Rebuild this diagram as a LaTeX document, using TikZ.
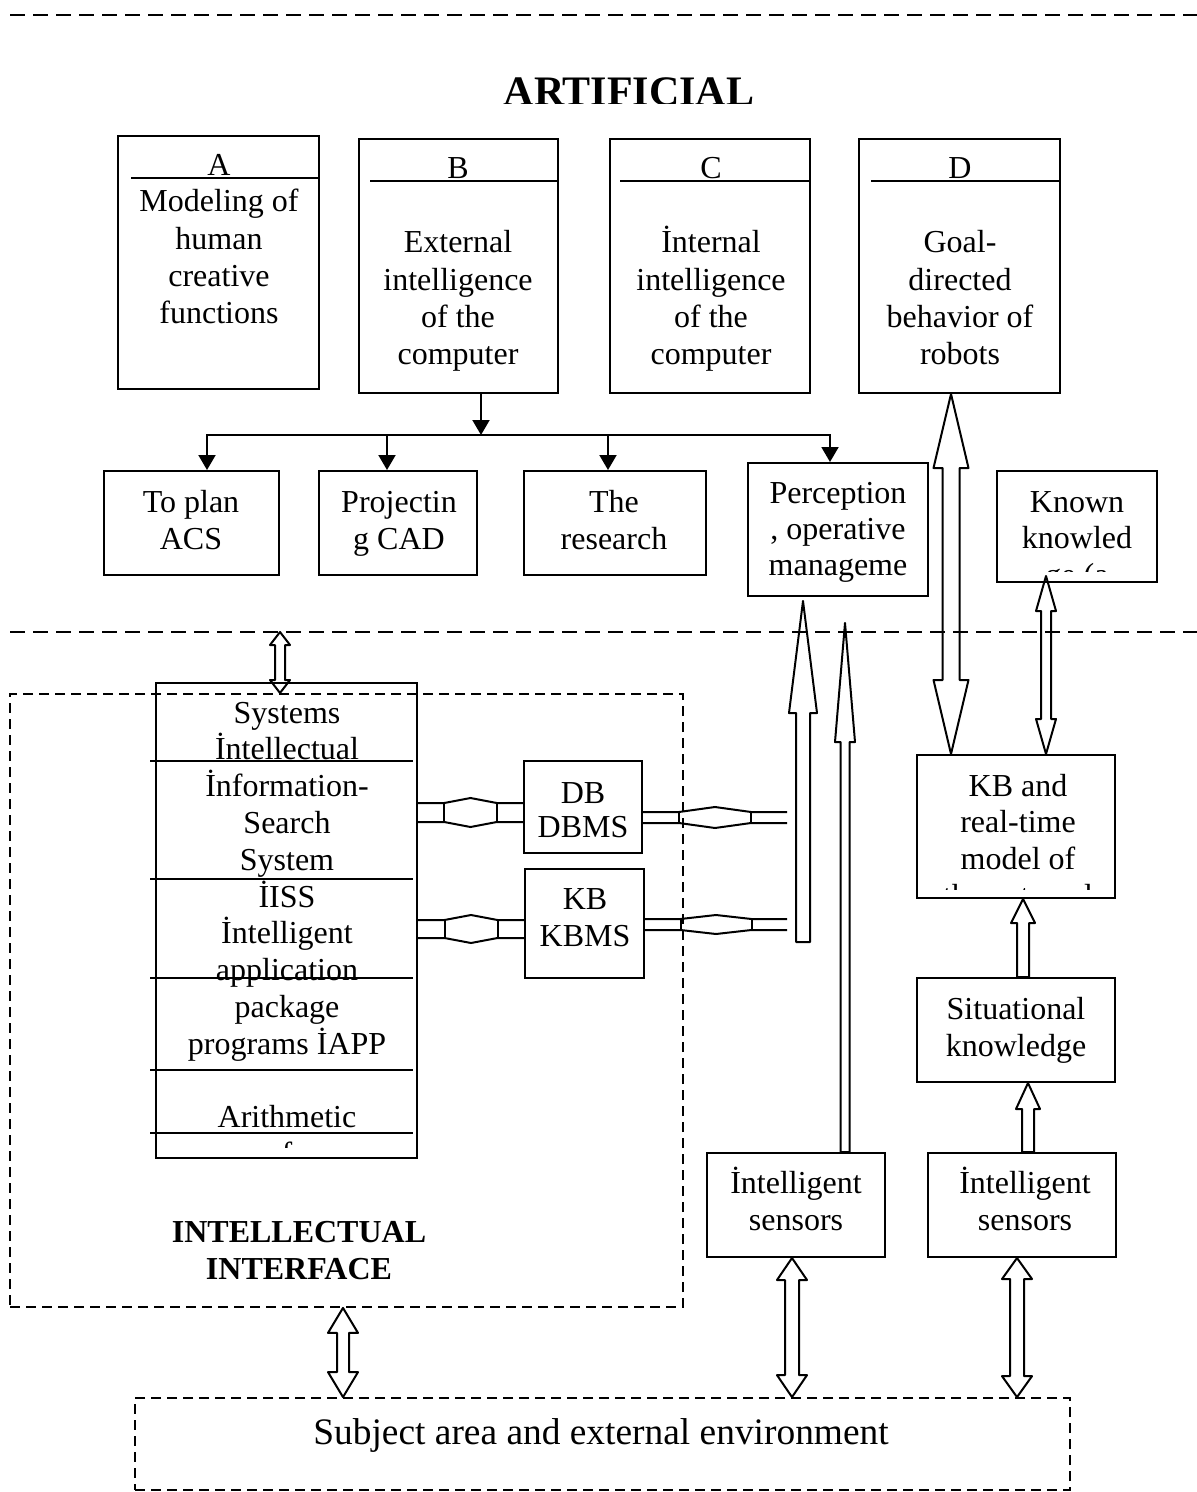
\documentclass[tikz,border=0pt]{standalone}
\usepackage{fontspec}
\setmainfont{Liberation Serif}
\usetikzlibrary{arrows.meta,calc,fit,positioning}

\tikzset{
  txt/.style={font=\fontsize{16}{18.6}\selectfont, inner sep=0pt},
  heading/.style={font=\fontsize{16}{18.6}\selectfont\bfseries, inner sep=0pt},
  cell/.style={draw, line width=1pt, inner sep=0pt},
  zone/.style={draw, line width=0.9pt, dash pattern=on 5pt off 3pt, inner sep=0pt},
  sep/.style={line width=0.9pt, dash pattern=on 7.5pt off 4pt},
  lnk/.style={line width=1pt},
  blk/.style={line width=1pt, line join=round},
  arr/.style={line width=1pt, -{Triangle[length=7.5pt,width=8.5pt]}},
}

% lines of text, one node per line: [step]{prefix}{x}{first baseline}{lines}
\newcommand{\boxlines}[5][37.2]{%
  \foreach \lineT [count=\row from 0] in {#5}
    \node[txt, anchor=base] (#2-\row) at (#3, #4+#1*\row) {\lineT};}

% block arrow up: {tail}{tip}{shaft half}{head half}{head length}
\newcommand{\upblock}[5]{%
  \draw[blk] ($(#1)+(-#3,0)$) -- ($(#1 |- #2)+(-#3,#5)$) -- ($(#1 |- #2)+(-#4,#5)$)
    -- (#1 |- #2) -- ($(#1 |- #2)+(#4,#5)$) -- ($(#1 |- #2)+(#3,#5)$)
    -- ($(#1)+(#3,0)$) -- cycle;}

% block arrow both ways: {lower tip}{upper tip}{shaft half}{head half}{head length}
\newcommand{\dblblock}[5]{%
  \draw[blk] (#1) -- ($(#1)+(-#4,-#5)$) -- ($(#1)+(-#3,-#5)$)
    -- ($(#1 |- #2)+(-#3,#5)$) -- ($(#1 |- #2)+(-#4,#5)$) -- (#1 |- #2)
    -- ($(#1 |- #2)+(#4,#5)$) -- ($(#1 |- #2)+(#3,#5)$)
    -- ($(#1)+(#3,-#5)$) -- ($(#1)+(#4,-#5)$) -- cycle;}

% flat two-way link: {left top}{right top}{gap}{bulge}
\newcommand{\bulgelink}[4]{%
  \draw[lnk] (#1) -- ($(#1)!.25!(#2)$) -- ($(#1)!.5!(#2)+(0,-#4)$) -- ($(#1)!.75!(#2)$) -- (#2);
  \draw[lnk] ($(#1)+(0,#3)$) -- ($(#1)!.25!(#2)+(0,#3)$) -- ($(#1)!.5!(#2)+(0,#3+#4)$)
    -- ($(#1)!.75!(#2)+(0,#3)$) -- ($(#2)+(0,#3)$);
  \draw[lnk] ($(#1)!.25!(#2)$) -- ++(0,#3) ($(#1)!.75!(#2)$) -- ++(0,#3);}

\begin{document}
\begin{tikzpicture}[x=0.5pt, y=-0.5pt]
\useasboundingbox (0,0) rectangle (1197,1492);

% separators
\draw[sep] (10,15) -- (1197,15);
\draw[sep] (10,632) -- (1197,632);

% title
\begin{scope}
  \clip (0,0) rectangle (1197,104);
  \node[font=\fontsize{21}{25}\selectfont\bfseries, inner sep=0pt, anchor=base] (title) at (629,105.5) {ARTIFICIAL};
\end{scope}

% boxes A to D
\node[cell, fit={(118,136) (319,389)}] (boxA) {};
\node[cell, fit={(359,139) (558,393)}] (boxB) {};
\node[cell, fit={(610,139) (810,393)}] (boxC) {};
\node[cell, fit={(859,139) (1060,393)}] (boxD) {};
\foreach \b/\l/\x/\y/\dx in {boxA/A/219/176/14, boxB/B/458/179/12, boxC/C/711/179/11, boxD/D/960/179/13}{
  \node[txt, anchor=base] (\b-head) at (\x,\y) {\l};
  \draw[lnk] ($(\b.west |- 0,\y)+(\dx,2)$) -- ($(\b.east |- 0,\y)+(0,2)$);
}
\boxlines{boxA-t}{219}{212}{Modeling of, human, creative, functions}
\boxlines{boxB-t}{458}{253}{External, intelligence, of the, computer}
\boxlines{boxC-t}{711}{253}{İnternal, intelligence, of the, computer}
\boxlines{boxD-t}{960}{253}{Goal-, directed, behavior of, robots}

% second row
\node[cell, fit={(104,471) (279,575)}] (plan) {};
\node[cell, fit={(319,471) (477,575)}] (proj) {};
\node[cell, fit={(524,471) (706,575)}] (research) {};
\node[cell, fit={(748,463) (928,596)}] (percept) {};
\node[cell, fit={(997,471) (1157,582)}] (known) {};
\boxlines{plan-t}{191}{512}{To plan, ACS}
\boxlines{proj-t}{399}{512}{Projectin, g CAD}
\boxlines{research-t}{614}{512}{The, research}
\boxlines[36]{percept-t}{838}{503}{Perception, {, operative}, manageme}
\begin{scope}
  \clip (997,471) rectangle (1157,571);
  \boxlines[36.5]{known-t}{1077}{512}{Known, knowled, ge (a}
\end{scope}

% B splits into the four tasks
\coordinate (split) at (481,435);
\draw[arr] (boxB.south -| split) -- (split);
\foreach \n/\dx in {plan/15.5, proj/-11, research/-7, percept/-8}
  \draw[arr] (split) -| ($(\n.north)+(\dx,0)$);

% intellectual interface
\node[zone, fit={(10,694) (683,1307)}] (iface) {};
\node[cell, fit={(156,683) (417,1158)}] (sys) {};
\foreach \y in {761,879,978,1070,1133}
  \draw[lnk] ($(sys.west |- 0,\y)+(-5,0)$) -- ($(sys.east |- 0,\y)+(-5,0)$);
\begin{scope}
  \clip (156,683) rectangle (417,1147);
  \boxlines[36.8]{sys-t}{287}{723}{Systems, İntellectual, İnformation-, Search, System, İISS, İntelligent, application, package, programs İAPP, {}, Arithmetic, f}
\end{scope}
\node[heading, anchor=base] (ifaceT1) at (299,1242) {INTELLECTUAL};
\node[heading, anchor=base] (ifaceT2) at (299,1279) {INTERFACE};

\node[cell, fit={(524,761) (642,853)}] (dbms) {};
\node[cell, fit={(525,869) (644,978)}] (kbms) {};
\boxlines[34]{dbms-t}{583}{803}{DB, DBMS}
\boxlines[37]{kbms-t}{585}{909}{KB, KBMS}

% links
\coordinate (l1a) at (sys.east |- 0,803);
\coordinate (l1b) at (dbms.west |- 0,803);
\coordinate (l2a) at (dbms.east |- 0,812);
\coordinate (l2b) at (787,812);
\coordinate (l3a) at (sys.east |- 0,920);
\coordinate (l3b) at (kbms.west |- 0,920);
\coordinate (l4a) at (kbms.east |- 0,919);
\coordinate (l4b) at (787,919);
\bulgelink{l1a}{l1b}{19}{5}
\bulgelink{l2a}{l2b}{11}{5}
\bulgelink{l3a}{l3b}{18}{5}
\bulgelink{l4a}{l4b}{11}{4}

% right column
\node[cell, fit={(917,755) (1115,898)}] (kbmodel) {};
\begin{scope}
  \clip (917,755) rectangle (1115,889);
  \boxlines[36.7]{kbmodel-t}{1018}{796}{KB and, real-time, model of, the external}
\end{scope}
\node[cell, fit={(917,978) (1115,1082)}] (situat) {};
\boxlines{situat-t}{1016}{1019}{Situational, knowledge}
\node[cell, fit={(707,1153) (885,1257)}] (sensL) {};
\node[cell, fit={(928,1153) (1116,1257)}] (sensR) {};
\boxlines{sensL-t}{796}{1193}{İntelligent, sensors}
\boxlines{sensR-t}{1025}{1193}{İntelligent, sensors}

% subject area
\node[zone, fit={(135,1398) (1070,1490)}] (subject) {};
\node[font=\fontsize{18.7}{22}\selectfont, inner sep=0pt, anchor=base] (subjectT) at (601,1444) {Subject area and external environment};

% block arrows
\coordinate (aLo) at (280,693);
\coordinate (aHi) at (280,632);
\dblblock{aLo}{aHi}{5}{10}{13}
\coordinate (bLo) at (kbmodel.north -| 951,0);
\dblblock{bLo}{boxD.south}{8.5}{17.5}{74}
\coordinate (cLo) at (kbmodel.north -| 1046,0);
\coordinate (cHi) at ([yshift=3.5pt]known.south -| cLo);
\dblblock{cLo}{cHi}{5}{10}{35}
\coordinate (dLo) at (situat.north -| 1023,0);
\upblock{dLo}{kbmodel.south}{6}{12}{24}
\coordinate (eLo) at (sensR.north -| 1028,0);
\upblock{eLo}{situat.south}{6}{12}{26}
\coordinate (fLo) at (sensL.north -| 845,0);
\coordinate (fHi) at (845,623);
\upblock{fLo}{fHi}{4.5}{10}{119}
\coordinate (gLo) at (803,942);
\coordinate (gHi) at (803,601);
\upblock{gLo}{gHi}{7}{14}{112}
\coordinate (hLo) at (subject.north -| 343,0);
\coordinate (hHi) at (iface.south -| 343,0);
\dblblock{hLo}{hHi}{6}{15}{25}
\coordinate (iLo) at (subject.north -| 792,0);
\dblblock{iLo}{sensL.south}{7}{15}{22}
\coordinate (jLo) at (subject.north -| 1017,0);
\dblblock{jLo}{sensR.south}{7}{15}{21}
\end{tikzpicture}
\end{document}
